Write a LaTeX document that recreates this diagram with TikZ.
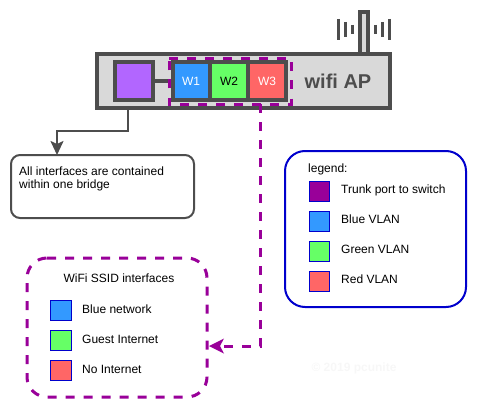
\documentclass[tikz,border=0pt]{standalone}
\usepackage{fontspec}
\setmainfont{Liberation Sans}
\usetikzlibrary{arrows.meta}
\definecolor{dk}{HTML}{4D4D4D}
\definecolor{ltg}{HTML}{D9D9D9}
\definecolor{pur}{HTML}{990099}
\definecolor{nv}{HTML}{0000CC}
\definecolor{bl}{HTML}{3399FF}
\definecolor{gr}{HTML}{66FF66}
\definecolor{rd}{HTML}{FF6666}
\definecolor{vio}{HTML}{B266FF}
\tikzset{
  box/.style={draw,outer sep=0pt,inner sep=0pt,minimum width=#1},
  area/.style={outer sep=0pt,inner sep=0pt,minimum width=#1},
  dk4/.style={draw=dk,line width=4pt},
  txt/.style={inner sep=0pt,font=\fontsize{12}{14}\selectfont,text=black},
  swatch/.style={draw=nv,line width=1pt,outer sep=0pt,inner sep=0pt,minimum width=20.5pt,minimum height=20.5pt},
  wcell/.style={outer sep=0pt,inner sep=0pt,minimum height=34pt,font=\fontsize{12}{14}\selectfont},
  pdash/.style={draw=pur,line width=3pt,dash pattern=on 9pt off 9pt},
  bar/.style={draw=dk,line width=2.7pt},
}
\begin{document}
\begin{tikzpicture}[x=1pt,y=-1pt]
\useasboundingbox (0,0) rectangle (478,409);
% antenna
\node[draw=dk,line width=4pt,fill=ltg,outer sep=0pt,inner sep=0pt,minimum width=8pt,minimum height=44pt] (ant) at (364,34) {};
\foreach \n/\x/\a/\b in {a/338.5/19/40,b/345.5/22/37,c/352.5/25/34,d/375.5/25/34,e/382.5/22/37,f/389.5/19/40}{
  \coordinate (s\n1) at (\x,\a); \coordinate (s\n2) at (\x,\b);
  \draw[bar] (s\n1) -- (s\n2);
}
% AP body
\node[box=293pt,dk4,fill=ltg,minimum height=54pt] (ap) at (243.5,81) {};
\node[box=38pt,dk4,fill=vio,minimum height=38pt] (trunk) at (134,81) {};
\node[wcell,fill=bl,minimum width=38pt,text=white] (w1) at (191,81) {W1};
\node[wcell,fill=gr,minimum width=38pt,text=black] (w2) at (229,81) {W2};
\node[wcell,fill=rd,minimum width=38pt,text=white] (w3) at (267,81) {W3};
\node[box=113pt,dk4,minimum height=38pt] (group) at (229.5,81) {};
\draw[dk,line width=4pt] (w1.north east) -- (w1.south east);
\draw[dk,line width=4pt] (w2.north east) -- (w2.south east);
\draw[dk,line width=4pt] (trunk.east) -- (group.west);
\node[area=122pt,minimum height=46pt] (dashbox) at (230,81.5) {};
\draw[pdash] (dashbox.north west) -- (dashbox.north east) -- (dashbox.south east) -- (dashbox.south west) -- cycle;
\node[inner sep=0pt,font=\fontsize{20}{22}\selectfont\bfseries,text=dk] (aplabel) at (338,81) {wifi AP};
% note
\coordinate (c1) at (128,110);
\node[box=183pt,draw=dk,line width=2pt,fill=white,minimum height=63pt,rounded corners=9pt] (note) at (102.5,186.5) {};
\coordinate (ntip) at (57,155);
\draw[dk,line width=2pt,-{Stealth[length=14pt,width=13pt,inset=3pt]}] (c1) -- ++(0,21) -| (ntip);
\node[txt,anchor=west] (n1) at (19,171) {All interfaces are contained};
\node[txt,anchor=west] (n2) at (19,185) {within one bridge};
% wifi box
\node[area=180pt,minimum height=139pt] (wifi) at (117,327.5) {};
\draw[pdash] ([xshift=20pt]wifi.north west) -- ([xshift=-20pt]wifi.north east)
  arc[start angle=90,end angle=0,radius=20pt] -- ([yshift=20pt]wifi.south east)
  arc[start angle=0,end angle=-90,radius=20pt] -- ([xshift=20pt]wifi.south west)
  arc[start angle=-90,end angle=-180,radius=20pt] -- ([yshift=-20pt]wifi.north west)
  arc[start angle=180,end angle=90,radius=20pt] -- cycle;
\node[txt] (wt) at (119,278) {WiFi SSID interfaces};
\node[swatch,fill=bl] (s1) at (61,310.5) {};
\node[swatch,fill=gr] (s2) at (61,340.5) {};
\node[swatch,fill=rd] (s3) at (61,370.5) {};
\node[txt,anchor=west] (l1) at (82,309) {Blue network};
\node[txt,anchor=west] (l2) at (82,339) {Guest Internet};
\node[txt,anchor=west] (l3) at (82,369) {No Internet};
\coordinate (ds) at (260.5,104);
\coordinate (wtip) at (209,346);
\draw[pdash,-{Stealth[length=15pt,width=15pt,inset=4pt,color=pur,line width=0pt]}] (ds) |- (wtip);
% legend
\node[box=181pt,draw=nv,line width=2pt,minimum height=156pt,rounded corners=20pt] (legend) at (375.5,229) {};
\node[txt,anchor=west] (lg) at (308,169.5) {legend:};
\node[swatch,fill=pur] (k0) at (319.5,191.5) {};
\node[swatch,fill=bl] (k1) at (319.5,221.5) {};
\node[swatch,fill=gr] (k2) at (319.5,251.5) {};
\node[swatch,fill=rd] (k3) at (319.5,281.5) {};
\node[txt,anchor=west] (t0) at (341,190.5) {Trunk port to switch};
\node[txt,anchor=west] (t1) at (341,219.5) {Blue VLAN};
\node[txt,anchor=west] (t2) at (341,249.5) {Green VLAN};
\node[txt,anchor=west] (t3) at (341,279.5) {Red VLAN};
\node[inner sep=0pt,font=\fontsize{12}{14}\selectfont\bfseries,text=black!3] (copy) at (354,368) {© 2019 pcunite};
\end{tikzpicture}
\end{document}
